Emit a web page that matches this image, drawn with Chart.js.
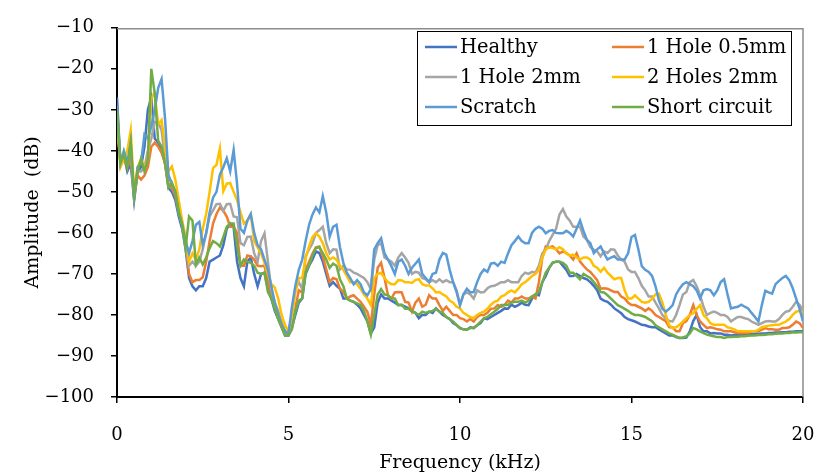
<!DOCTYPE html>
<html>
<head>
<meta charset="utf-8">
<script src="https://cdn.jsdelivr.net/npm/chart.js@4.4.1/dist/chart.umd.min.js"></script>
<style>
  html, body { margin: 0; padding: 0; background: #fff; }
  #wrap { width: 814px; height: 476px; position: relative; }
</style>
</head>
<body>
<div id="wrap"><canvas id="chart"></canvas></div>
<script>
// frequency grid in kHz, one reading every 0.1 kHz
const freq = Array.from({ length: 201 }, (_, i) => +(i * 0.1).toFixed(1));

const seriesNames = ['Healthy', '1 Hole 0.5mm', '1 Hole 2mm', '2 Holes 2mm', 'Scratch', 'Short circuit'];
const seriesColors = ['#4472C4', '#ED7D31', '#A5A5A5', '#FFC000', '#5B9BD5', '#70AD47'];

const healthy = [
  -27, -43, -41, -45, -43, -52, -45, -44, -39, -30,
  -27, -37, -38, -39.8, -43, -49, -50, -52, -56, -59,
  -64, -71, -73, -74, -73, -73, -71, -67, -66.5, -66,
  -65.5, -63, -59, -57.7, -58.5, -67, -71, -73, -67, -66,
  -70, -73, -70, -69.7, -73.6, -76, -79, -81, -83, -85,
  -85, -83, -80, -77, -76, -70, -68, -66.5, -64.5, -64.9,
  -67, -70, -72.9, -72, -72.9, -73.6, -76, -76, -76.5, -76.8,
  -77.5, -78.4, -80, -81.6, -84.5, -83, -77, -75, -76, -76,
  -76.5, -77, -77.6, -77.6, -78, -78.4, -79.2, -79.5, -80.8, -80,
  -80, -79.2, -79.5, -78.4, -79.2, -80, -80.5, -81, -82, -82.5,
  -83.2, -83.5, -83.6, -83, -83.2, -82.5, -82, -80.8, -81, -80.5,
  -80, -79.5, -79, -78.4, -78.5, -77.5, -78, -77.6, -77, -77.5,
  -77.6, -76, -75, -75.2, -72, -70.5, -68.5, -67.3, -67, -67,
  -68, -69, -70.5, -70.5, -70, -70.5, -71, -71.3, -72, -72.9,
  -74, -76, -76.5, -76.8, -77.5, -78.4, -79, -79.6, -80.5, -81,
  -81.3, -81.6, -82, -82.4, -82.5, -82.8, -83, -83, -83.5, -84,
  -84.5, -85, -85, -85.4, -85.6, -85.6, -85.5, -84, -81.5, -80,
  -83, -84, -84, -84.5, -84.4, -84.5, -84.5, -84.8, -84.8, -85,
  -84.9, -84.9, -84.8, -84.8, -84.7, -84.7, -84.6, -84.6, -84.5, -84.5,
  -84.4, -84.4, -84.3, -84.3, -84.2, -84.2, -84.1, -84.1, -84, -84,
  -84
];

const hole05 = [
  -34, -43, -42, -44, -42, -51, -46, -47, -46, -44,
  -39, -38, -39, -40.5, -43, -48, -49, -51, -55, -58,
  -63, -70, -72, -71.5, -71.5, -70.8, -67, -62, -57.7, -55.4,
  -53.8, -54.6, -56, -58.5, -58.5, -60, -68, -68, -65.5, -65.7,
  -66.5, -68, -68.1, -68, -72, -75, -78, -80, -82, -84,
  -84.5, -83, -78.4, -74, -74.5, -69, -67, -65, -63.5, -63.3,
  -65.7, -68.9, -72, -71, -71.3, -73.6, -74.4, -76, -75.5, -75.2,
  -76, -76.8, -78, -79.2, -82.4, -75, -68.5, -67.3, -71, -75.2,
  -76, -74.5, -74.4, -74.5, -76.8, -77, -79.2, -77, -76, -78,
  -77.5, -75.2, -76, -76, -77.6, -79, -78, -79, -80, -80,
  -80.8, -81, -81.6, -81, -81.6, -80.5, -80, -80, -79.5, -78.5,
  -78.4, -77.6, -78, -77.6, -76.5, -77, -76, -76, -75.5, -76,
  -76, -75.5, -76, -72, -66, -63.3, -63.5, -63.3, -64, -65,
  -64.5, -64.9, -65.5, -66.5, -65, -67, -68, -68.9, -69.5, -70.5,
  -71.5, -73.6, -73.5, -73.6, -74, -74.4, -74.4, -75.5, -76, -77,
  -77.6, -77.6, -78, -78.4, -79, -78.4, -79, -80, -80.5, -81,
  -81.5, -83, -83, -84, -84, -82, -81.5, -80, -77.6, -80,
  -81.6, -82.4, -83.2, -83, -83.2, -83.5, -83.6, -84, -84, -84,
  -84.2, -84.4, -84.4, -84.4, -84.4, -84, -84, -84, -83.6, -83.2,
  -83.5, -83.5, -83.6, -83.6, -83.2, -83.2, -83, -82.4, -81.6, -82,
  -83.2
];

const hole2 = [
  -32, -43, -41, -43, -40, -51, -45, -45, -44, -40,
  -37, -33, -33, -35, -42, -46, -48, -50, -54, -58,
  -63, -68, -67, -68, -67, -64, -60, -56, -54.5, -53,
  -52.9, -54.6, -53, -52.9, -56, -56.2, -62.5, -63, -61, -60.9,
  -65, -67, -62, -60.1, -67, -74, -77, -79, -82, -84,
  -84.5, -80, -73.7, -72, -73.7, -65.7, -64, -62.5, -60, -59.3,
  -58.5, -62.5, -64.9, -64, -64.1, -68.9, -68, -68.9, -69, -69.7,
  -70, -70.5, -71, -72, -73.7, -66.5, -63, -62.5, -66, -66.5,
  -67, -68, -66, -64.9, -66, -67.3, -70, -69.5, -69.7, -71,
  -71.3, -72, -71.5, -72, -71.3, -72, -71.5, -72, -72, -74,
  -77.6, -75, -74.5, -75, -76, -74, -74.5, -74.4, -73.5, -73,
  -72.9, -72.5, -72, -72, -71.5, -72, -72, -72, -70.5, -69.7,
  -70, -69.5, -69.7, -68, -65, -64.1, -62, -60.5, -59, -55.5,
  -54.2, -56, -57, -58.5, -58.5, -58.5, -60.9, -61.7, -63.5, -64.1,
  -64.5, -65.7, -64.5, -64.9, -64, -64.1, -65.5, -66.5, -67, -68.9,
  -69.5, -69.5, -71, -72.9, -74, -75.5, -75.5, -77, -78.4, -80,
  -80.8, -81.5, -81.6, -80, -77.6, -75, -74.4, -72, -71.5, -73,
  -75.2, -78, -80, -79.5, -79.2, -79.5, -80, -80, -80.5, -81.6,
  -81, -80.5, -80.5, -80.8, -81, -81.6, -82, -82.4, -82, -81.6,
  -81.5, -81.6, -81.6, -81, -80, -79.2, -79, -78, -76.8, -77.5,
  -79
];

const holes2 = [
  -31, -44, -42, -40, -35, -50, -44, -42, -44, -42,
  -27, -26, -33.5, -32.5, -39, -45, -43.8, -47, -52, -57,
  -61, -67, -65, -66.5, -64, -59, -55.4, -50, -44.2, -43.4,
  -39.4, -49.8, -48, -47.8, -50, -52, -55, -57.7, -57, -55.4,
  -62, -63.5, -65, -67.3, -70, -72.5, -73.3, -76, -80, -82.5,
  -84, -80, -74.4, -71, -71, -66, -63.3, -61, -60.1, -60.9,
  -62.5, -64.9, -66.5, -66, -66.5, -68, -69, -70.5, -72, -72,
  -72.5, -73.6, -75, -76, -77.6, -71, -70, -69.7, -71, -72,
  -72.5, -72.5, -71.5, -71.6, -72, -72, -72.2, -71.5, -71.3, -72.5,
  -72.8, -72.8, -73.5, -74.5, -74.4, -75, -75.5, -76.5, -77, -78,
  -78.4, -79.5, -80, -80.5, -80.8, -80, -79.5, -79.2, -78.5, -77.5,
  -76.8, -76.5, -75.5, -75.2, -74.5, -74, -74.5, -73.6, -72.5, -72,
  -71.3, -70.5, -70, -68.9, -66, -64, -63.5, -63.7, -64, -63.5,
  -64, -65, -65.5, -65.3, -66, -66.5, -66, -66, -66.5, -68,
  -68.5, -69.5, -68.5, -69.7, -70.5, -71.3, -71, -71, -74, -76,
  -76, -75.2, -76, -76.8, -77, -76.8, -76, -75, -74.8, -77,
  -80, -82.5, -83.2, -83, -82.4, -81.6, -80.8, -80, -79.6, -78.5,
  -77.6, -80, -80.8, -82, -82.4, -82.4, -82.4, -82.4, -83, -83.2,
  -83.5, -84, -84, -84, -84, -84, -84, -83.6, -83, -82.8,
  -82.6, -82.5, -82.4, -82.4, -82, -81.6, -81, -80, -79.2, -79,
  -79.2
];

const scratch = [
  -29, -43, -40, -43, -38, -52, -44, -43, -36, -37,
  -34, -30, -24.7, -22.5, -32, -46, -48, -50, -55, -58,
  -62, -65, -62, -58, -57.3, -63, -60.1, -55, -51.4, -50,
  -45.8, -44, -41.8, -45, -39.8, -48, -59, -60, -57, -55.4,
  -60, -63, -64, -66.5, -69, -73, -77, -80, -82.5, -84,
  -84.5, -78, -72.9, -69, -66.5, -62, -58, -55.5, -53.8, -55,
  -51, -55, -60.9, -58.5, -58, -63.5, -67.3, -69.7, -71, -72.5,
  -71.5, -72.5, -74.5, -75.2, -73.7, -64, -62.5, -61.3, -65, -66.5,
  -68.1, -70, -67, -66.5, -68, -70, -68.5, -67.5, -66.5, -70,
  -71, -72, -70, -69.7, -66.5, -64.9, -65.3, -69, -72, -74.4,
  -77.6, -75, -73.6, -74.5, -74.4, -72, -70, -68.9, -69.5, -67.5,
  -67.3, -68, -67, -67.3, -65, -63, -62, -60.9, -62, -62.5,
  -62.5, -60, -59, -58.5, -59, -60.1, -59.5, -59.3, -60, -60.1,
  -60.1, -59.5, -60, -60.9, -59, -57, -59.5, -61.7, -62.5, -64.9,
  -64, -63.3, -65, -66.5, -66, -65.7, -66.5, -66.5, -66.5, -65,
  -61, -60.5, -64, -68.1, -69, -69.5, -70.5, -73, -76.5, -78.5,
  -79.2, -78.5, -77.6, -75, -73.6, -72.5, -72, -72.5, -73, -74,
  -76, -74, -73.7, -74, -75.2, -74, -72, -71.3, -75, -78.4,
  -78.2, -78, -77.5, -78, -78.4, -79.5, -80.5, -81.6, -77.6, -74.1,
  -74.5, -74.8, -72.5, -71.7, -71, -70.5, -71.5, -73.5, -76, -78.5,
  -81.6
];

const shortCircuit = [
  -30, -43, -41, -44, -38, -51, -45, -42, -45, -42,
  -20, -26, -37.5, -39, -43, -49, -47.8, -50, -55, -58,
  -63.7, -56, -57, -67.7, -66, -67.7, -66, -63.7, -62, -62.5,
  -63.3, -61, -58.5, -57.7, -57.7, -63, -68, -66.5, -67, -67.3,
  -68, -69.7, -70, -69.7, -74.4, -76, -78.4, -81, -83, -85,
  -85, -83.5, -79.2, -76.5, -76, -69.5, -68, -65.5, -63.7, -63.5,
  -64.9, -66.5, -68.5, -67.5, -68, -71.3, -73, -76, -76.5, -76.8,
  -77.2, -77.6, -79, -81.6, -84.8, -80, -75, -73.7, -75, -75.2,
  -76, -76, -77.6, -77.5, -78.5, -78.5, -79, -79.5, -80, -79.2,
  -79.5, -79.2, -79, -78.5, -79.2, -79.5, -80.5, -81, -81.6, -82.4,
  -83.2, -83.5, -83.6, -83.2, -83.2, -82.5, -81.6, -80.8, -80.5, -79.8,
  -79.2, -78.5, -77.6, -77.6, -77.5, -77, -76.8, -76.8, -76.5, -77,
  -76.5, -75.5, -75, -74.4, -72, -69.7, -68.5, -67.3, -67, -67,
  -67.3, -68, -69.7, -69.7, -70.5, -71.3, -70, -70.5, -71, -72,
  -73, -74.4, -74.5, -75.2, -76, -76.8, -77.6, -78, -78.5, -79,
  -79.6, -80, -80, -80.2, -80.5, -81, -81.5, -82.5, -83, -83.5,
  -84, -84.5, -84.8, -85.2, -85.6, -85.5, -85.2, -84.5, -83.2, -83.5,
  -84, -84.4, -84.8, -85, -85.2, -85.4, -85.4, -85.6, -85.4, -85.4,
  -85.3, -85.3, -85.2, -85.2, -85.1, -85, -85, -84.9, -84.9, -84.8,
  -84.7, -84.7, -84.6, -84.5, -84.5, -84.4, -84.4, -84.3, -84.3, -84.2,
  -84.2
];

const seriesValues = [healthy, hole05, hole2, holes2, scratch, shortCircuit];

const serif = "'DejaVu Serif', 'Liberation Serif', serif";
const minus = (v) => (v < 0 ? '\u2212' + Math.abs(v) : String(v));

// legend drawn inside the plot, two columns, boxed like the original
const boxLegend = {
  id: 'boxLegend',
  afterDraw(chart) {
    const { ctx } = chart;
    ctx.save();
    ctx.strokeStyle = '#000';
    ctx.lineWidth = 1;
    ctx.strokeRect(417.5, 31.5, 374, 94);
    ctx.font = '19.5px ' + serif;
    ctx.textBaseline = 'middle';
    ctx.fillStyle = '#000';
    chart.data.datasets.forEach((ds, i) => {
      const col = i % 2;
      const row = Math.floor(i / 2);
      const x = col === 0 ? 425 : 612;
      const y = 47 + row * 30;
      ctx.strokeStyle = ds.borderColor;
      ctx.lineWidth = 2.5;
      ctx.beginPath();
      ctx.moveTo(x, y);
      ctx.lineTo(x + 32, y);
      ctx.stroke();
      ctx.fillText(ds.label, x + 35, y + 1);
    });
    ctx.restore();
  },
};

// thin grey frame on the top and right of the plot area
const plotFrame = {
  id: 'plotFrame',
  beforeDatasetsDraw(chart) {
    const { ctx, chartArea: a } = chart;
    ctx.save();
    ctx.strokeStyle = '#8c8c8c';
    ctx.lineWidth = 1.5;
    ctx.beginPath();
    ctx.moveTo(a.left, a.top + 1);
    ctx.lineTo(a.right, a.top + 1);
    ctx.lineTo(a.right, a.bottom);
    ctx.stroke();
    ctx.restore();
  },
};

new Chart(document.getElementById('chart'), {
  type: 'line',
  data: {
    datasets: seriesNames.map((name, i) => ({
      label: name,
      data: freq.map((f, k) => ({ x: f, y: seriesValues[i][k] })),
      borderColor: seriesColors[i],
      backgroundColor: seriesColors[i],
      borderWidth: 2.5,
      pointRadius: 0,
      tension: 0,
      fill: false,
      order: seriesNames.length - i,
    })),
  },
  options: {
    responsive: true,
    maintainAspectRatio: false,
    animation: false,
    layout: { padding: { left: 0, right: 1, top: 20, bottom: 0 } },
    plugins: {
      legend: { display: false },
      tooltip: { enabled: false },
    },
    scales: {
      x: {
        type: 'linear',
        min: 0,
        max: 20,
        afterFit: (s) => { s.height = 79; s.paddingLeft = 0; s.paddingRight = 11; },
        grid: { drawOnChartArea: false, drawTicks: true, tickLength: 6, color: '#000', lineWidth: 1.5 },
        border: { color: '#000', width: 2 },
        ticks: { stepSize: 5, color: '#000', padding: 22, maxRotation: 0, font: { family: serif, size: 18 } },
        title: { display: true, text: 'Frequency (kHz)', color: '#000', padding: { top: 0, bottom: 2 }, font: { family: serif, size: 19 } },
      },
      y: {
        min: -100,
        max: -10,
        afterFit: (s) => { s.width = 117; },
        grid: { drawOnChartArea: false, drawTicks: true, tickLength: 6, color: '#000', lineWidth: 1.5 },
        border: { color: '#000', width: 2 },
        ticks: { stepSize: 10, color: '#000', padding: 17, callback: minus, font: { family: serif, size: 18 } },
        title: { display: true, text: 'Amplitude  (dB)', color: '#000', padding: { top: 22, bottom: 0 }, font: { family: serif, size: 19 } },
      },
    },
  },
  plugins: [plotFrame, boxLegend],
});
</script>
</body>
</html>
